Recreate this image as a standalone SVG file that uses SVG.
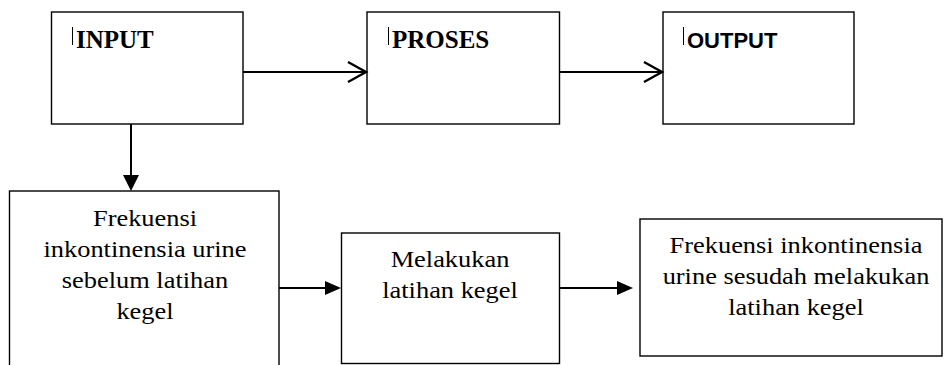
<svg xmlns="http://www.w3.org/2000/svg" width="944" height="365" viewBox="0 0 944 365">
  <style>
    .box { fill: #ffffff; stroke: #000000; stroke-width: 1.4; }
    .mark { stroke: #000; stroke-width: 1; }
    .line { stroke: #000; stroke-width: 2; fill: none; }
    .open { stroke: #000; stroke-width: 2.4; fill: none; stroke-linejoin: miter; }
    .solid { fill: #000; stroke: none; }
  </style>

  <!-- top row: INPUT / PROSES / OUTPUT -->
  <g font-family="Liberation Serif, serif" font-weight="bold" font-size="25" fill="#000">
    <g id="input">
      <rect class="box" x="51.5" y="12" width="191.5" height="112"/>
      <line class="mark" x1="72.5" y1="27" x2="72.5" y2="45"/>
      <text x="76" y="48">INPUT</text>
    </g>
    <g id="proses">
      <rect class="box" x="367" y="12" width="192.5" height="112"/>
      <line class="mark" x1="388.5" y1="27" x2="388.5" y2="45"/>
      <text x="392" y="48">PROSES</text>
    </g>
  </g>
  <g id="output">
    <rect class="box" x="663" y="12" width="191" height="112"/>
    <line class="mark" x1="683.5" y1="27" x2="683.5" y2="45"/>
    <text x="687" y="47.5" font-family="Liberation Sans, sans-serif" font-weight="bold" font-size="22" fill="#000">OUTPUT</text>
  </g>

  <!-- bottom row -->
  <g font-family="Liberation Serif, serif" font-size="24" fill="#000" text-anchor="middle">
    <g id="frekuensi-sebelum">
      <rect class="box" x="9.5" y="191" width="269.5" height="190"/>
      <text transform="translate(145 226) scale(1.1 1)">Frekuensi</text>
      <text transform="translate(145 257) scale(1.1 1)">inkontinensia urine</text>
      <text transform="translate(145 288) scale(1.1 1)">sebelum latihan</text>
      <text transform="translate(145 319) scale(1.1 1)">kegel</text>
    </g>
    <g id="latihan">
      <rect class="box" x="341.5" y="233" width="218" height="130.5"/>
      <text transform="translate(450 267) scale(1.1 1)">Melakukan</text>
      <text transform="translate(450 298) scale(1.1 1)">latihan kegel</text>
    </g>
    <g id="frekuensi-sesudah">
      <rect class="box" x="640" y="219" width="302" height="137"/>
      <text transform="translate(796 253) scale(1.1 1)">Frekuensi inkontinensia</text>
      <text transform="translate(796 284) scale(1.1 1)">urine sesudah melakukan</text>
      <text transform="translate(796 315) scale(1.1 1)">latihan kegel</text>
    </g>
  </g>

  <!-- connectors -->
  <g id="connectors">
    <line class="line" x1="243" y1="72" x2="365" y2="72"/>
    <polyline class="open" points="348,62 366,72 348,82"/>
    <line class="line" x1="559.5" y1="72" x2="661" y2="72"/>
    <polyline class="open" points="644,62 662,72 644,82"/>

    <line class="line" x1="131" y1="124" x2="131" y2="177"/>
    <polygon class="solid" points="123,175 139,175 131,191"/>

    <line class="line" x1="279" y1="288" x2="327" y2="288"/>
    <polygon class="solid" points="325,281 341,288 325,295"/>
    <line class="line" x1="559.5" y1="288" x2="619" y2="288"/>
    <polygon class="solid" points="617,281 633,288 617,295"/>
  </g>
</svg>
